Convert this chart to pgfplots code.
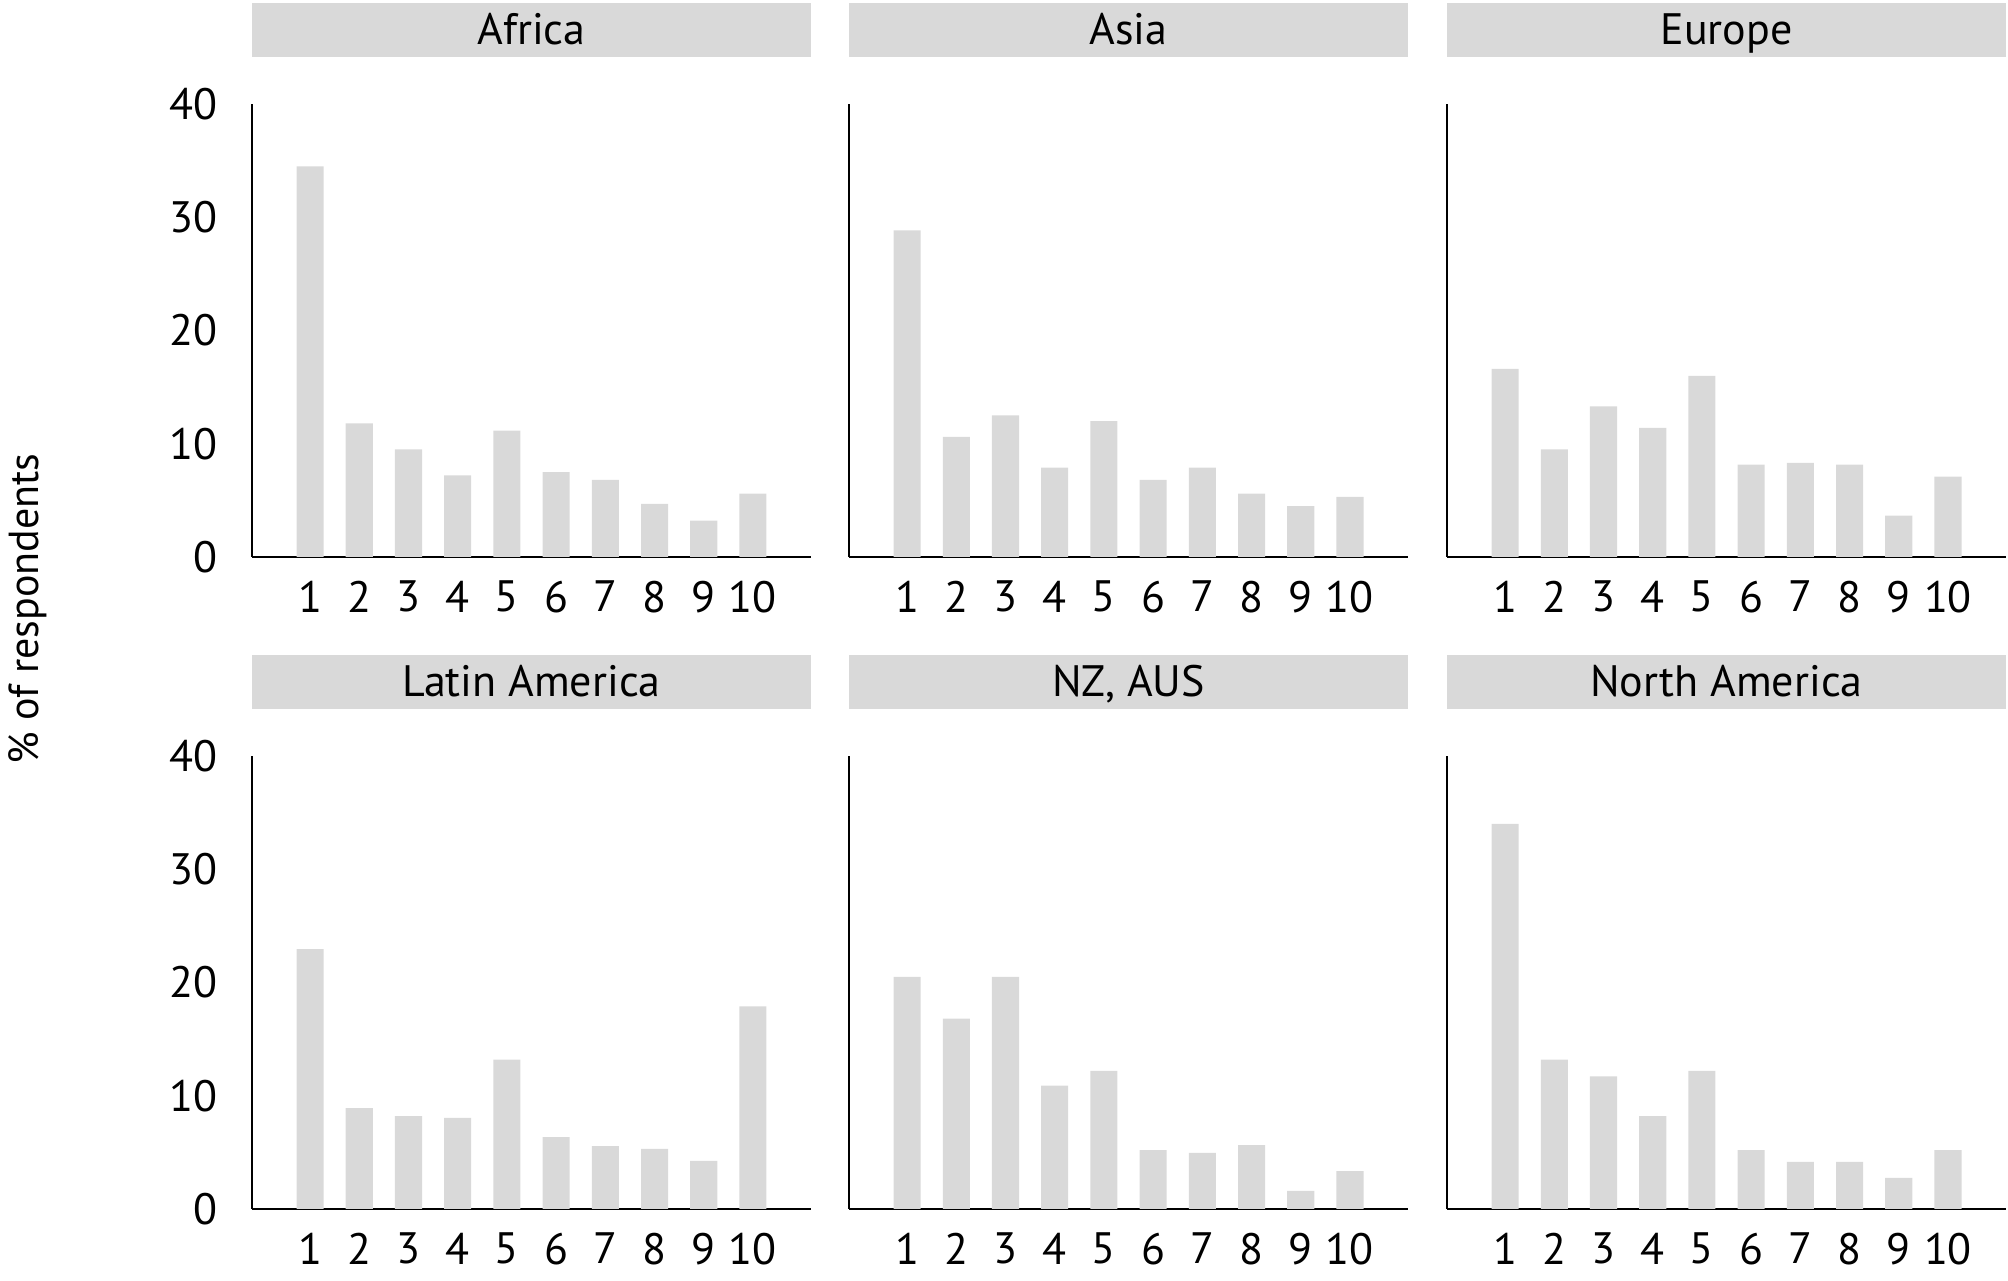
\documentclass[border=0pt]{standalone}
\usepackage{fontspec}
\setmainfont{PT Sans}
\usepackage{pgfplots}
\pgfplotsset{compat=1.18}
\definecolor{barg}{HTML}{D9D9D9}
\pgfplotsset{panel/.style={
  scale only axis, width=139.75pt, height=113.25pt,
  xmin=-0.18, xmax=11.18, ymin=0, ymax=40,
  axis x line=bottom, axis y line=left,
  axis line style={-, line width=0.45pt, black},
  xtick={1,...,10}, ytick={0,10,20,30,40},
  major tick length=0pt,
  tick label style={font=\fontsize{11}{13}\selectfont},
  /pgf/number format/assume math mode=true,
  xticklabel style={yshift=-2.5pt},
  yticklabel style={xshift=-5pt},
  ybar, bar width=0.55,
  title style={at={(0.5,1)}, anchor=south, yshift=5.5pt, fill=barg,
    minimum width=139.75pt, minimum height=13.5pt, inner sep=0pt,
    text height=9pt, text depth=1.9pt,
    font=\fontsize{11}{13}\selectfont},
},
noy/.style={yticklabels={}}}
\begin{document}
\begin{tikzpicture}
\path[use as bounding box] (0,0) rectangle (502pt,320.25pt);
\node[rotate=90, font=\fontsize{10.5}{12}\selectfont] at (7pt,168pt) {\% of respondents};
% Africa
\begin{axis}[panel, at={(63pt,181pt)}, anchor=south west, title={Africa}]
\addplot[fill=barg, draw=none] coordinates {(1,34.5) (2,11.8) (3,9.5) (4,7.2) (5,11.15) (6,7.5) (7,6.8) (8,4.7) (9,3.2) (10,5.6)};
\end{axis}
% Asia
\begin{axis}[panel, noy, at={(212.25pt,181pt)}, anchor=south west, title={Asia}]
\addplot[fill=barg, draw=none] coordinates {(1,28.85) (2,10.6) (3,12.5) (4,7.9) (5,12.0) (6,6.8) (7,7.9) (8,5.6) (9,4.5) (10,5.3)};
\end{axis}
% Europe
\begin{axis}[panel, noy, at={(361.75pt,181pt)}, anchor=south west, title={Europe}]
\addplot[fill=barg, draw=none] coordinates {(1,16.6) (2,9.5) (3,13.3) (4,11.4) (5,16.0) (6,8.15) (7,8.3) (8,8.15) (9,3.65) (10,7.1)};
\end{axis}
% Latin America
\begin{axis}[panel, at={(63pt,18pt)}, anchor=south west, title={Latin America}]
\addplot[fill=barg, draw=none] coordinates {(1,22.95) (2,8.9) (3,8.2) (4,8.05) (5,13.2) (6,6.35) (7,5.55) (8,5.3) (9,4.25) (10,17.9)};
\end{axis}
% NZ, AUS
\begin{axis}[panel, noy, at={(212.25pt,18pt)}, anchor=south west, title={NZ, AUS}]
\addplot[fill=barg, draw=none] coordinates {(1,20.5) (2,16.8) (3,20.5) (4,10.9) (5,12.2) (6,5.2) (7,4.95) (8,5.65) (9,1.6) (10,3.35)};
\end{axis}
% North America
\begin{axis}[panel, noy, at={(361.75pt,18pt)}, anchor=south west, title={North America}]
\addplot[fill=barg, draw=none] coordinates {(1,34.0) (2,13.2) (3,11.7) (4,8.2) (5,12.2) (6,5.2) (7,4.15) (8,4.15) (9,2.75) (10,5.2)};
\end{axis}
\end{tikzpicture}
\end{document}
